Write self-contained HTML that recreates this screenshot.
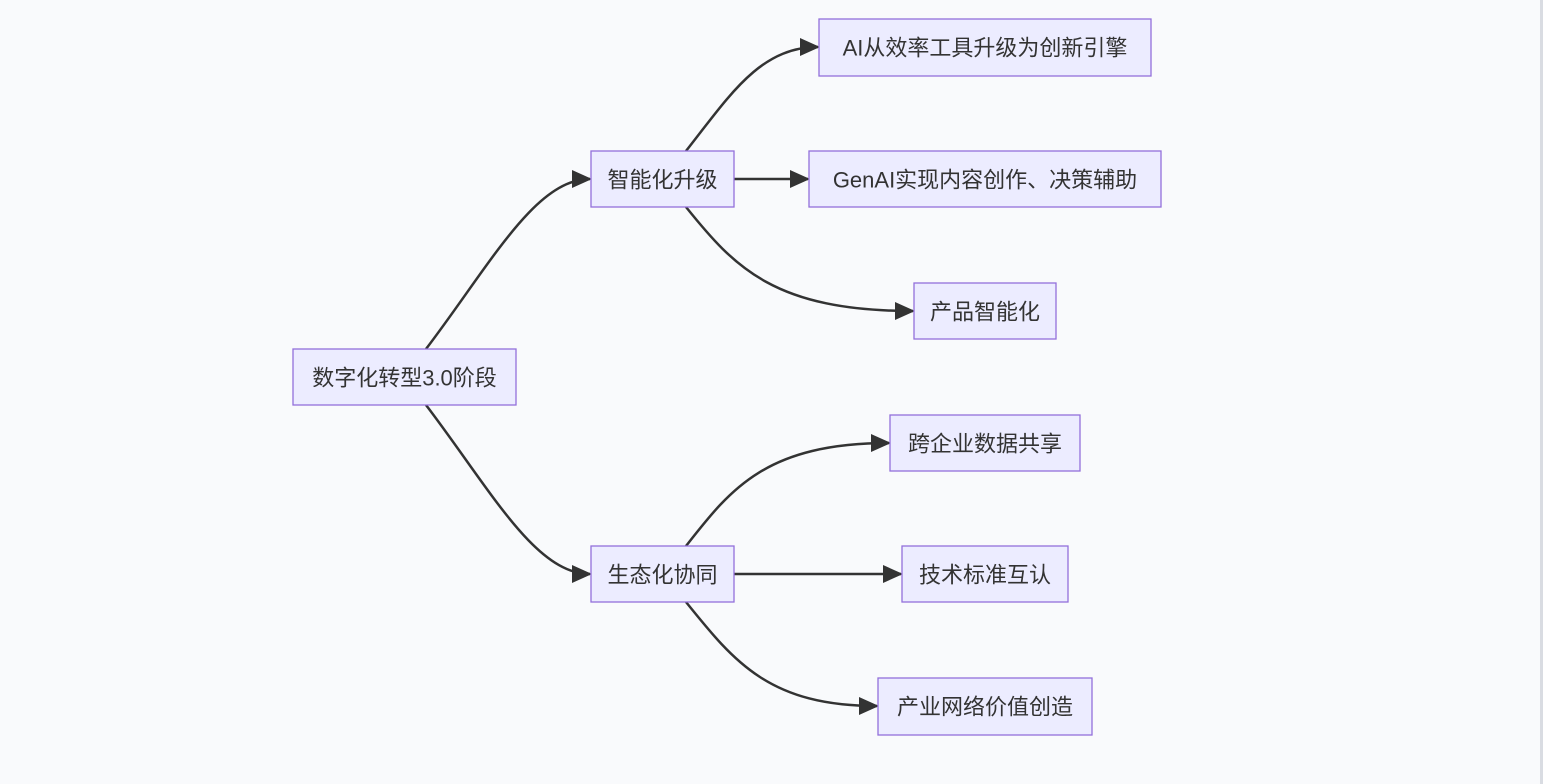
<!DOCTYPE html>
<html><head><meta charset="utf-8"><style>
html,body{margin:0;padding:0;background:#f9fafc;}
svg{display:block}
text{font-family:"Liberation Sans","Noto Sans CJK SC",sans-serif;font-size:22px;fill:#333;text-anchor:middle;dominant-baseline:central}
rect{fill:#ECECFF;stroke:#9370DB;stroke-width:1.3}
path.e{fill:none;stroke:#333;stroke-width:2.5}
</style></head><body>
<svg width="1543" height="784" viewBox="0 0 1543 784">
<rect x="0" y="0" width="1543" height="784" style="fill:#f9fafc;stroke:none"/>
<rect x="1540" y="0" width="3" height="784" style="fill:#d9dce2;stroke:none"/>
<defs><marker id="a" markerWidth="10" markerHeight="10" refX="9" refY="5" orient="auto" markerUnits="userSpaceOnUse" viewBox="0 0 10 10"><path d="M0,0 L10,5 L0,10 z" fill="#333"/></marker>
<marker id="b" markerWidth="20" markerHeight="20" refX="18" refY="10" orient="auto" markerUnits="userSpaceOnUse" viewBox="0 0 20 20"><path d="M0,1 L20,10 L0,19 z" fill="#333"/></marker></defs>
<path class="e" marker-end="url(#b)" d="M426,349 C490,265 535,179 590,179"/>
<path class="e" marker-end="url(#b)" d="M426,405 C490,489 535,574 590,574"/>
<path class="e" marker-end="url(#b)" d="M686,151 C730,95 760,47 818,47"/>
<path class="e" marker-end="url(#b)" d="M734,179 L808,179"/>
<path class="e" marker-end="url(#b)" d="M686,207 C735,268 775,311 913,311"/>
<path class="e" marker-end="url(#b)" d="M686,546 C730,490 765,443 889,443"/>
<path class="e" marker-end="url(#b)" d="M734,574 L901,574"/>
<path class="e" marker-end="url(#b)" d="M686,602 C735,663 770,706 877,706"/>
<rect x="293" y="349" width="223" height="56"/><text x="404.5" y="378">数字化转型3.0阶段</text>
<rect x="591" y="151" width="143" height="56"/><text x="662.5" y="180">智能化升级</text>
<rect x="591" y="546" width="143" height="56"/><text x="662.5" y="575">生态化协同</text>
<rect x="819" y="19" width="332" height="57"/><text x="985" y="48">AI从效率工具升级为创新引擎</text>
<rect x="809" y="151" width="352" height="56"/><text x="985" y="180">GenAI实现内容创作、决策辅助</text>
<rect x="914" y="283" width="142" height="56"/><text x="985" y="312">产品智能化</text>
<rect x="890" y="415" width="190" height="56"/><text x="985" y="444">跨企业数据共享</text>
<rect x="902" y="546" width="166" height="56"/><text x="985" y="575">技术标准互认</text>
<rect x="878" y="678" width="214" height="57"/><text x="985" y="707">产业网络价值创造</text>
</svg>
</body></html>
